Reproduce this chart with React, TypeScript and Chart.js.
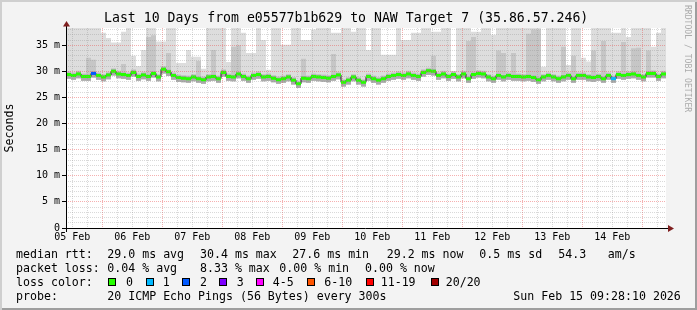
import React, { useEffect, useRef } from 'react';
import { Chart, registerables } from 'chart.js';

Chart.register(...registerables);

// ---- time axis (hours from Thu Feb 05 09:28:10 2026) ----
const STEP_HOURS = 2;
const SPAN_HOURS = 240;
const FIRST_MIDNIGHT = 14.5306; // Feb 06 00:00
const dayLabels = ['05 Feb', '06 Feb', '07 Feb', '08 Feb', '09 Feb', '10 Feb', '11 Feb', '12 Feb', '13 Feb', '14 Feb'];

// ---- value axis (milliseconds) ----
const Y_MAX = 38.3;
const yMajorLabels = ['0', '5 m', '10 m', '15 m', '20 m', '25 m', '30 m', '35 m'];

// median rtt per 2h step (ms)
const medianRtt = [
  29.4, 29.2, 29.5, 29.0, 29.0, 29.6, 29.2, 28.9, 29.3, 30.0, 29.5, 29.4, 29.2, 29.8, 29.0, 29.3, 29.0, 29.6, 28.9, 30.4, 29.9, 29.2, 28.8, 28.7, 28.6, 28.9, 28.6, 28.4, 28.9, 29.0,
  28.6, 29.8, 29.0, 28.9, 29.5, 29.0, 28.6, 29.2, 29.4, 28.9, 29.0, 28.7, 28.4, 28.6, 28.9, 28.3, 27.6, 28.7, 28.6, 29.0, 28.9, 28.8, 28.7, 29.0, 29.3, 27.9, 28.3, 28.9, 28.3, 27.9,
  29.0, 28.6, 28.3, 28.6, 29.0, 29.2, 29.4, 29.2, 29.5, 29.2, 29.0, 29.8, 30.1, 30.0, 29.2, 29.5, 29.0, 29.4, 28.9, 29.5, 28.6, 29.4, 29.6, 29.5, 28.9, 28.6, 29.2, 28.9, 29.2, 29.0,
  29.0, 28.9, 29.0, 28.8, 28.4, 28.9, 29.2, 28.9, 28.6, 28.9, 29.2, 28.6, 29.2, 29.2, 28.9, 28.8, 29.0, 28.6, 29.2, 28.6, 29.4, 29.2, 29.4, 29.5, 29.2, 28.9, 29.6, 29.6, 29.0, 29.5,
];

// highest ping per step (ms) — 39 means off the top of the graph
const smokeMax = [
  39, 39, 39, 39, 39, 39, 39, 37.4, 36.4, 35.5, 35.5, 37.6, 39, 33.0, 31.0, 34.1, 39, 39, 35.7, 35.7, 39, 39, 31.6, 31.6, 34.1, 32.8, 32.8, 30.5, 39, 39,
  39, 39, 31.8, 39, 39, 37.4, 33.5, 33.5, 39, 36.0, 30.3, 39, 39, 35.1, 35.1, 39, 39, 36.0, 36.0, 38.0, 39, 39, 39, 37.4, 37.4, 39, 39, 37.6, 39, 39,
  34.1, 39, 39, 33.2, 33.2, 33.2, 39, 36.0, 36.0, 37.4, 37.4, 39, 39, 37.6, 37.6, 39, 39, 30.0, 39, 39, 39, 37.6, 37.6, 39, 39, 37.0, 39, 39, 39, 39,
  39, 39, 39, 39, 39, 30.9, 39, 39, 39, 39, 31.2, 39, 39, 32.6, 31.9, 39, 39, 39, 39, 37.4, 37.4, 39, 36.6, 39, 39, 39, 39, 34.7, 37.4, 39,
];

// dense (darker) smoke columns reaching high (ms); null = only near the median
const N = null;
const darkSmoke: (number | null)[] = [
  N, N, N, N, 32.6, 32.2, N, N, N, N, N, 31.4, N, N, N, N, 36.6, 36.9, N, N, 33.5, N, N, N, N, N, 32.0, N, N, 34.1,
  N, N, N, 34.7, 35.0, N, N, N, N, N, N, N, N, N, N, N, N, 32.4, N, N, N, N, N, 33.3, N, N, N, N, N, N,
  N, N, N, N, N, N, N, N, N, N, N, N, N, 33.0, N, N, N, N, N, N, 35.8, 36.6, N, N, N, N, 34.0, 33.5, N, 33.5,
  N, N, 37.2, 38.0, 38.0, N, N, N, N, 34.7, N, 33.0, N, N, N, 34.0, N, 35.8, N, N, N, 35.6, N, 34.4, 34.5, N, 34.0, N, N, N,
];

// loss bucket per step (index into lossColors)
const lossBucket = [
  0, 0, 0, 0, 0, 2, 0, 0, 0, 0, 0, 0, 0, 0, 0, 0, 0, 0, 0, 0, 0, 0, 0, 0, 0, 0, 0, 0, 0, 0,
  0, 0, 0, 0, 0, 0, 0, 0, 0, 0, 0, 0, 0, 0, 0, 0, 0, 0, 0, 0, 0, 0, 0, 0, 0, 0, 0, 0, 0, 0,
  0, 0, 0, 0, 0, 0, 0, 0, 0, 0, 0, 0, 0, 0, 0, 0, 0, 0, 0, 0, 0, 0, 0, 0, 0, 0, 0, 0, 0, 0,
  0, 0, 0, 0, 0, 0, 0, 0, 0, 0, 0, 0, 0, 0, 0, 0, 0, 0, 0, 1, 0, 0, 0, 0, 0, 0, 0, 0, 0, 0,
];
const lossLabels = ['0', '1', '2', '3', '4-5', '6-10', '11-19', '20/20'];
const lossColors = ['#26ff00', '#00b8ff', '#0059ff', '#7e00ff', '#ff00ff', '#ff5500', '#ff0000', '#a10000'];

const legendRows = [
  { top: 247, items: [[16, 'median rtt:'], [107.3, '29.0 ms avg'], [200, '30.4 ms max'], [292.3, '27.6 ms min'], [386.7, '29.2 ms now'], [479.3, '0.5 ms sd'], [558.3, '54.3'], [607.7, 'am/s']] },
  { top: 261, items: [[16, 'packet loss:'], [107.3, '0.04 % avg'], [200, '8.33 % max'], [279.3, '0.00 % min'], [365, '0.00 % now']] },
  { top: 289, items: [[16, 'probe:'], [107.3, '20 ICMP Echo Pings (56 Bytes) every 300s'], [513.3, 'Sun Feb 15 09:28:10 2026']] },
];
const lossBoxX = [108.3, 145.7, 182.3, 219, 255.7, 307.3, 365.7, 431];
const lossTextX = [126, 162.7, 200, 236.7, 272.7, 324.3, 380.7, 445.7];

const FONT = '"DejaVu Sans Mono", monospace';

const stepSeries = (vals: number[]) => [
  ...vals.map((v, i) => ({ x: i * STEP_HOURS, y: v })),
  { x: SPAN_HOURS, y: vals[vals.length - 1] },
];

const near = (a: number) => Math.abs(a - Math.round(a)) < 1e-6;

const canvasBg = {
  id: 'canvasBg',
  beforeDraw(chart: any) {
    const { ctx, chartArea: a } = chart;
    ctx.save();
    ctx.fillStyle = '#ffffff';
    ctx.fillRect(a.left, a.top, a.right - a.left, a.bottom - a.top);
    ctx.restore();
  },
};

const axesArrows = {
  id: 'axesArrows',
  afterDraw(chart: any) {
    const { ctx, chartArea: a } = chart;
    const x0 = a.left + 0.5;
    const y0 = a.bottom + 0.5;
    ctx.save();
    ctx.strokeStyle = '#000';
    ctx.lineWidth = 1;
    ctx.beginPath();
    ctx.moveTo(a.left - 4, y0);
    ctx.lineTo(a.right + 3, y0);
    ctx.moveTo(x0, a.bottom + 4);
    ctx.lineTo(x0, a.top - 3);
    ctx.stroke();
    ctx.fillStyle = '#7f1f1f';
    ctx.beginPath();
    ctx.moveTo(a.right + 2, y0 - 3.5);
    ctx.lineTo(a.right + 8, y0);
    ctx.lineTo(a.right + 2, y0 + 3.5);
    ctx.closePath();
    ctx.fill();
    ctx.beginPath();
    ctx.moveTo(x0 - 3.5, a.top - 1.5);
    ctx.lineTo(x0, a.top - 7);
    ctx.lineTo(x0 + 3.5, a.top - 1.5);
    ctx.closePath();
    ctx.fill();
    ctx.restore();
  },
};

export default function App() {
  const ref = useRef<HTMLCanvasElement>(null);

  useEffect(() => {
    document.body.style.margin = '0';
    const smokeFloor = medianRtt.map((v) => v - 0.8);
    const coreTop = medianRtt.map((v) => v + 0.4);
    const darkTop = medianRtt.map((v, i) => (darkSmoke[i] ?? v + 0.6));

    const bandData = (b: number) => {
      const pts: { x: number; y: number | null }[] = [];
      medianRtt.forEach((v, i) => {
        if (lossBucket[i] === b) {
          pts.push({ x: i * STEP_HOURS, y: v }, { x: (i + 1) * STEP_HOURS, y: v }, { x: (i + 1) * STEP_HOURS, y: null });
        }
      });
      return pts;
    };

    const common = { pointRadius: 0, pointHoverRadius: 0, tension: 0 };
    const datasets: any[] = [
      { ...common, data: stepSeries(smokeFloor), stepped: 'before', borderWidth: 0, borderColor: 'transparent', fill: false, order: 60 },
      { ...common, data: stepSeries(smokeMax), stepped: 'before', borderWidth: 0, borderColor: 'transparent', backgroundColor: '#dddddd', fill: 0, order: 50 },
      { ...common, data: stepSeries(darkTop), stepped: 'before', borderWidth: 0, borderColor: 'transparent', backgroundColor: '#c6c6c6', fill: 0, order: 40 },
      { ...common, data: stepSeries(coreTop), stepped: 'before', borderWidth: 0, borderColor: 'transparent', backgroundColor: '#ababab', fill: 0, order: 30 },
      { ...common, data: stepSeries(medianRtt), stepped: 'before', borderWidth: 1, borderColor: '#202020', fill: false, order: 20 },
    ];
    lossColors.forEach((c, b) => {
      const d = bandData(b);
      if (d.length) {
        datasets.push({ ...common, data: d, borderWidth: 3, borderColor: c, borderCapStyle: 'butt', fill: false, spanGaps: false, order: 10 });
      }
    });

    const xTicks: number[] = [];
    for (let h = FIRST_MIDNIGHT - 12; h < SPAN_HOURS; h += 6) xTicks.push(h);
    const yTicks: number[] = [];
    for (let v = 0; v <= Math.floor(Y_MAX); v++) yTicks.push(v);

    const minorGrid = 'rgba(143,143,143,0.34)';
    const majorGrid = 'rgba(232,80,80,0.45)';

    const chart = new Chart(ref.current!, {
      type: 'line',
      data: { datasets },
      plugins: [canvasBg, axesArrows],
      options: {
        responsive: false,
        devicePixelRatio: 1,
        animation: false,
        events: [],
        layout: { padding: { top: 28, right: 31, left: 0, bottom: 0 } },
        plugins: { legend: { display: false }, tooltip: { enabled: false }, title: { display: false } },
        scales: {
          x: {
            type: 'linear',
            min: 0,
            max: SPAN_HOURS,
            afterBuildTicks: (s: any) => { s.ticks = xTicks.map((v) => ({ value: v })); },
            afterFit: (s: any) => { s.height = 82; },
            border: { display: false, dash: [1, 1] },
            grid: {
              z: 1,
              drawTicks: false,
              lineWidth: 1,
              color: (c: any) => (near((c.tick.value - FIRST_MIDNIGHT) / 24) ? majorGrid : minorGrid),
            },
            ticks: {
              autoSkip: false,
              maxRotation: 0,
              padding: 3,
              color: '#000',
              font: { family: FONT, size: 10 },
              callback: (v: any) => {
                const k = (Number(v) - (FIRST_MIDNIGHT - 12)) / 24;
                return near(k) ? dayLabels[Math.round(k)] ?? '' : '';
              },
            },
          },
          y: {
            type: 'linear',
            min: 0,
            max: Y_MAX,
            afterBuildTicks: (s: any) => { s.ticks = yTicks.map((v) => ({ value: v })); },
            afterFit: (s: any) => { s.width = 66; },
            border: { display: false, dash: [1, 1] },
            grid: {
              z: 1,
              drawTicks: true,
              tickLength: 4,
              lineWidth: 1,
              color: (c: any) => (c.tick.value % 5 === 0 ? majorGrid : minorGrid),
              tickColor: (c: any) => (c.tick.value % 5 === 0 ? '#000' : 'rgba(0,0,0,0)'),
            },
            ticks: {
              autoSkip: false,
              padding: 2,
              color: '#000',
              font: { family: FONT, size: 10 },
              callback: (v: any) => (Number(v) % 5 === 0 ? yMajorLabels[Number(v) / 5] : ''),
            },
            title: {
              display: true,
              text: 'Seconds',
              color: '#000',
              font: { family: FONT, size: 11.6 },
              padding: { top: 3, bottom: 0 },
            },
          },
        },
      } as any,
    });
    return () => chart.destroy();
  }, []);

  const textBase: React.CSSProperties = {
    position: 'absolute',
    fontFamily: FONT,
    fontSize: '11.6px',
    lineHeight: '14px',
    color: '#000',
    whiteSpace: 'pre',
  };

  return (
    <div
      style={{
        position: 'relative',
        width: 697,
        height: 310,
        background: '#f3f3f3',
        boxShadow: 'inset 2px 2px 0 #cfcfcf, inset -2px -2px 0 #9e9e9e',
        overflow: 'hidden',
      }}
    >
      <canvas ref={ref} width={697} height={310} style={{ position: 'absolute', left: 0, top: 0, width: 697, height: 310 }} />
      <div style={{ ...textBase, left: 104, top: 10.4, fontSize: '13.2px', lineHeight: '16px' }}>
        Last 10 Days from e05577b1b629 to NAW Target 7 (35.86.57.246)
      </div>
      <div
        style={{
          position: 'absolute',
          left: 683,
          top: 5,
          fontFamily: FONT,
          fontSize: '8.1px',
          lineHeight: '10px',
          color: '#ababab',
          writingMode: 'vertical-rl',
          whiteSpace: 'pre',
        }}
      >
        RRDTOOL / TOBI OETIKER
      </div>
      {legendRows.map((row, r) =>
        row.items.map(([x, t], k) => (
          <div key={`${r}-${k}`} style={{ ...textBase, left: x as number, top: row.top }}>
            {t as string}
          </div>
        )),
      )}
      <div style={{ ...textBase, left: 16, top: 275 }}>loss color:</div>
      {lossLabels.map((l, i) => (
        <React.Fragment key={l}>
          <div
            style={{
              position: 'absolute',
              left: lossBoxX[i],
              top: 278,
              width: 8,
              height: 8,
              boxSizing: 'border-box',
              border: '1px solid #000',
              background: lossColors[i],
            }}
          />
          <div style={{ ...textBase, left: lossTextX[i], top: 275 }}>{l}</div>
        </React.Fragment>
      ))}
    </div>
  );
}
